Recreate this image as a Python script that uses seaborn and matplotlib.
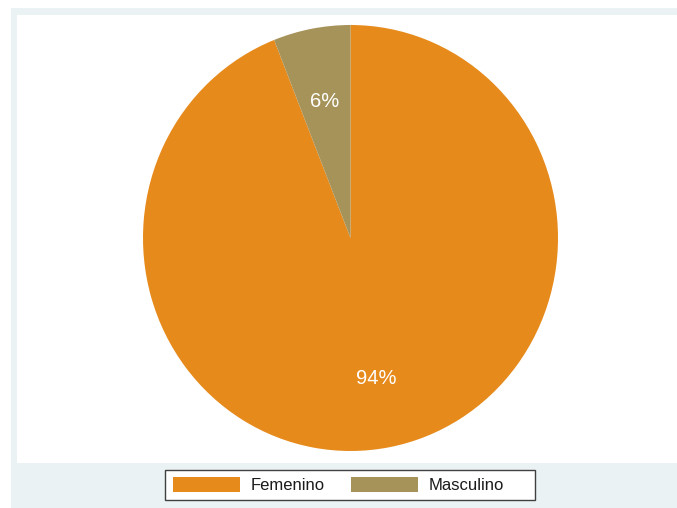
import matplotlib
matplotlib.use("Agg")
import matplotlib.pyplot as plt
from matplotlib.patches import Rectangle
import seaborn as sns

# Distribution by sex
categories = ["Femenino", "Masculino"]
shares = [94, 6]
colors = ["#E68A1B", "#A6935A"]

sns.set_theme(style="white")
plt.rcParams["font.family"] = ["Liberation Sans", "DejaVu Sans"]

W, H = 677, 508
fig = plt.figure(figsize=(W / 100, H / 100), dpi=100)
fig.patch.set_facecolor("white")

# Outer graph region (light blue-gray band)
fig.patches.append(Rectangle((11 / W, 0), 1 - 11 / W, (H - 8) / H,
                             transform=fig.transFigure, facecolor="#EAF2F3",
                             edgecolor="none", zorder=-5))

# Plot region
left, top, bottom = 17, 15, 463
ax = fig.add_axes([left / W, (H - bottom) / H, 1 - left / W, (bottom - top) / H])
ax.set_zorder(1)

wedges, texts, autotexts = ax.pie(
    shares, colors=colors, startangle=90, counterclock=False,
    autopct=lambda p: f"{p:.0f}%", pctdistance=0.66,
    wedgeprops=dict(linewidth=0),
    textprops=dict(color="white", fontsize=14.5),
)
for t in autotexts:
    t.set_verticalalignment("center_baseline")
ax.set_frame_on(True)
ax.set_facecolor("white")
for s in ax.spines.values():
    s.set_visible(False)

# Pixel scale: radii 207.5 px (x) and 213 px (y), centre at (350.5, 238)
rx, ry = 207.5, 213
cx, cy = 350.5 - left, 238 - top
aw, ah = W - left, bottom - top
ax.set_aspect("auto")
ax.set_xlim(-cx / rx, (aw - cx) / rx)
ax.set_ylim(-(ah - cy) / ry, cy / ry)
ax.set_xticks([])
ax.set_yticks([])

# Legend frame
fig.patches.append(Rectangle((165 / W, (H - 500) / H), 370 / W, 30 / H,
                             transform=fig.transFigure, facecolor="white",
                             edgecolor="#404040", linewidth=1.0, zorder=2))

leg = fig.legend(
    wedges, categories, ncol=2, loc="center left",
    bbox_to_anchor=(173 / W, (H - 485) / H),
    frameon=False, fontsize=12, handlelength=4.0, handleheight=1.0,
    handletextpad=0.65, columnspacing=1.6, borderpad=0, borderaxespad=0,
)
leg.set_zorder(3)
for t in leg.get_texts():
    t.set_color("#1a1a1a")

fig.savefig("out.png", dpi=100)
